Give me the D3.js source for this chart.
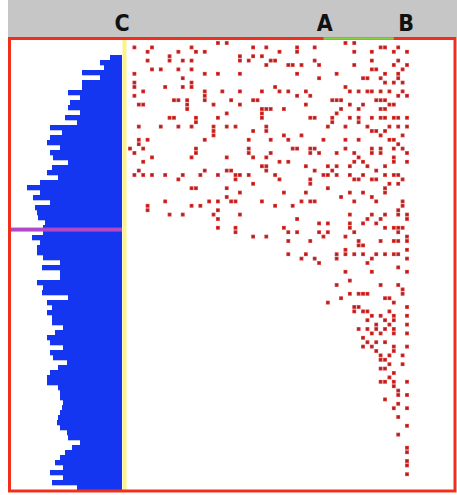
<!DOCTYPE html>
<meta charset="utf-8">
<title>Dot matrix with bars</title>
<style>
body { margin: 0; background: #fff; }
.label { font: bold 23px "DejaVu Sans Condensed", sans-serif; fill: #111; }
</style>
<svg width="457" height="495"></svg>
<script src="https://d3js.org/d3.v7.min.js"></script>
<script>

// column labels, placed on the dot column scale
var labels = ["C", "A", "B"];
var labelCols = [-1.8, 44.3, 62.8];

// highlighted span on the top border (dot columns)
var greenSpan = [44, 60];

// marker row across the bars (dot row units)
var markerRow = 42.4;

// bar lengths, top to bottom
var barLengths = [12, 22, 18, 40, 22, 40, 40, 54, 42, 52, 54, 42, 57, 45, 72, 60, 72, 75, 62, 72,
  69, 54, 70, 75, 64, 82, 95, 82, 89, 72, 87, 85, 84, 77, 79, 79, 90, 82, 85, 85,
  79, 62, 80, 62, 62, 85, 79, 80, 54, 75, 70, 75, 70, 70, 59, 67, 75, 72, 59, 72,
  69, 55, 64, 72, 75, 75, 64, 62, 62, 59, 60, 62, 64, 65, 62, 55, 54, 42, 50, 57,
  62, 67, 59, 72, 59, 70, 45];

// dots as [column, row]
var dots = [
  [1,1],[4,2],[5,1],[11,2],[14,1],[15,2],[17,2],[20,0],[22,0],[28,1],[31,1],
  [4,4],[9,4],[9,3],[12,4],[14,4],[25,3],[25,4],[27,4],[28,3],[30,3],[31,5],
  [5,6],[7,6],[11,6],[14,6],[17,7],[20,7],[25,7],[1,7],
  [12,8],[14,9],[1,9],[1,10],[3,11],[8,10],[12,10],[14,10],[17,11],[17,12],[21,11],[25,11],[30,11],[28,13],[29,13],[23,13],[1,12],
  [2,14],[3,14],[10,13],[11,13],[13,13],[13,14],[13,15],[17,13],[19,14],[22,16],[25,14],[30,15],[31,15],
  [9,17],[10,17],[15,17],[15,18],[20,17],[22,19],[30,16],[30,17],
  [2,19],[7,19],[11,19],[14,19],[19,19],[19,20],[19,21],[17,22],[24,19],[28,20],[31,20],
  [2,22],[4,22],[2,23],[27,22],[0,24],[3,24],[15,24],[27,24],
  [34,2],[38,1],[38,2],[42,1],[49,0],[51,0],[51,2],[55,2],[57,1],[58,1],[60,2],[61,1],[63,2],
  [32,4],[33,4],[36,5],[37,5],[39,5],[42,4],[43,5],[51,5],[55,4],[60,5],[61,4],[63,5],
  [38,7],[47,7],[55,6],[56,6],[58,7],[61,7],[62,6],[61,8],
  [43,8],[53,8],[54,8],[57,8],[58,9],[60,9],[62,9],
  [33,10],[34,11],[36,11],[38,12],[40,11],[41,12],[49,10],[50,11],[52,11],[54,11],[55,11],[57,11],[59,11],[61,12],[62,11],[63,12],
  [40,14],[46,13],[47,13],[48,13],[48,15],[50,14],[53,14],[56,13],[57,13],[58,13],[59,14],[60,14],
  [32,15],[35,15],[47,16],[52,15],[57,15],[58,15],
  [41,17],[42,17],[46,17],[46,18],[50,17],[52,17],[52,18],[55,17],[57,17],[58,17],[60,17],[61,17],[63,17],
  [31,19],[45,19],[49,19],[54,19],[55,20],[56,20],[58,20],[59,19],[61,19],[63,19],
  [32,22],[35,21],[36,22],[39,21],[44,22],[49,22],[52,22],[57,21],[59,22],[60,22],[62,21],
  [37,24],[38,24],[41,24],[42,24],[49,24],[55,24],[57,24],[60,24],[61,23],[62,24],
  [1,25],[5,26],[3,27],[14,26],[15,25],[22,26],[27,25],[28,26],[31,26],
  [1,30],[2,29],[3,30],[5,30],[8,30],[11,31],[12,30],[16,30],[17,29],[20,30],[22,29],[23,29],[24,30],[25,30],[27,30],[24,31],[28,32],[30,28],[31,29],
  [14,33],[15,33],[22,33],[25,34],[8,36],[4,37],[4,38],[14,37],[16,37],[18,36],[20,36],[22,35],[23,36],[24,36],[30,36],
  [9,39],[12,39],[19,39],[20,38],[20,40],[25,39],[20,42],[24,42],[24,43],[28,44],[31,44],
  [32,25],[41,25],[43,25],[47,25],[51,25],[52,26],[55,25],[57,25],[60,26],[60,27],[63,25],[63,27],
  [34,27],[36,27],[40,28],[42,29],[45,28],[46,29],[47,28],[50,28],[51,27],[53,27],[54,28],[56,29],[58,28],
  [31,28],[33,30],[34,31],[41,31],[41,32],[44,30],[45,30],[47,30],[50,30],[51,31],[52,31],[53,30],[55,31],[56,31],[58,30],[60,30],[61,30],[62,31],
  [35,34],[40,34],[39,36],[41,36],[42,36],[45,33],[48,35],[50,34],[51,36],[53,34],[55,35],[56,36],[58,34],[58,33],[59,32],[61,32],[62,37],[62,36],[61,38],[61,39],[55,39],
  [33,37],[37,37],[38,40],[43,41],[45,41],[43,43],[45,43],[35,42],[36,43],[38,43],[50,39],[50,41],[50,42],[51,43],[53,41],[54,40],[56,41],[57,40],[58,39],[58,42],[60,42],[61,42],[62,42],[61,43],[63,44],[63,39],[63,40],
  [36,45],[41,45],[44,44],[49,44],[52,45],[52,46],[53,46],[57,45],[60,45],[61,45],[63,45],
  [36,48],[39,49],[40,48],[42,49],[43,50],[47,48],[47,49],[49,47],[49,48],[51,48],[53,48],[54,50],[55,49],[56,48],[58,48],[60,48],[61,48],[63,47],[63,49],
  [49,52],[55,52],[61,51],[63,52],
  [47,55],[50,54],[52,57],[53,57],[54,57],[57,55],[61,55],[62,56],[62,57],[45,59],[48,58],[50,57],[51,60],[52,60],[58,58],[59,58],[60,59],[63,60],[54,61],[55,62],[59,61],[60,62],[63,62],
  [51,61],[53,61],[54,63],[57,62],[58,63],[59,64],[60,63],[63,64],
  [52,65],[54,65],[55,66],[56,64],[56,65],[57,66],[58,65],[60,65],[60,66],[63,66],
  [53,67],[54,68],[53,69],[55,69],[56,68],[56,70],[58,68],[60,69],[60,70],[59,71],[57,71],[63,69],
  [57,72],[57,74],[58,72],[58,74],[59,73],[60,75],[62,71],[62,73],[59,76],[60,77],
  [57,77],[58,77],[60,78],[61,80],[63,77],[63,80],[61,79],
  [58,81],[60,83],[61,82],[63,83],[61,85],[63,87],[61,89],[63,92],[63,93],[63,95],[63,96],[63,98]
];

var svg = d3.select("svg"),
    width = +svg.attr("width"),
    height = +svg.attr("height");

var frame = {left: 9.5, top: 38.5, right: 455, bottom: 491};
var barEdge = 122;

var x = d3.scaleLinear().domain([0, 63]).range([130, 407]);
var y = d3.scaleLinear().domain([0, 98]).range([43, 474.2]);

var yBar = d3.scaleBand()
    .domain(d3.range(barLengths.length))
    .range([55, 490]);
var xBar = d3.scaleLinear().domain([0, 100]).range([barEdge, 22]);

// header strip
svg.append("rect")
    .attr("x", 8).attr("y", 0)
    .attr("width", width - 8).attr("height", 37)
    .attr("fill", "#c6c6c6");

svg.selectAll(".label")
    .data(labels)
    .enter().append("text")
    .attr("class", "label")
    .attr("x", function(d, i) { return x(labelCols[i]); })
    .attr("y", 31)
    .attr("text-anchor", "middle")
    .text(function(d) { return d; });

// bars
svg.selectAll(".bar")
    .data(barLengths)
    .enter().append("rect")
    .attr("class", "bar")
    .attr("x", function(d) { return xBar(d); })
    .attr("y", function(d, i) { return yBar(i); })
    .attr("width", function(d) { return barEdge - xBar(d); })
    .attr("height", yBar.bandwidth() + 0.3)
    .attr("fill", "#1436f0");

// yellow divider
svg.append("rect")
    .attr("x", barEdge + 0.5).attr("y", frame.top)
    .attr("width", 4).attr("height", frame.bottom - frame.top)
    .attr("fill", "#fbf48a");

// marker row
svg.append("rect")
    .attr("x", frame.left).attr("y", y(markerRow) - 2)
    .attr("width", barEdge - frame.left).attr("height", 4)
    .attr("fill", "#b048c8");

// dots
var dot = svg.selectAll(".dot")
    .data(dots)
    .enter().append("g")
    .attr("class", "dot")
    .attr("transform", function(d) { return "translate(" + x(d[0]) + "," + y(d[1]) + ")"; });

dot.append("rect")
    .attr("x", -1.9).attr("y", -1.9)
    .attr("width", 3.8).attr("height", 3.8)
    .attr("fill", "#e03028");

dot.append("rect")
    .attr("x", -0.9).attr("y", -0.9)
    .attr("width", 1.8).attr("height", 1.8)
    .attr("fill", "#8a2438");

// frame
svg.append("rect")
    .attr("x", frame.left).attr("y", frame.top)
    .attr("width", frame.right - frame.left).attr("height", frame.bottom - frame.top)
    .attr("fill", "none")
    .attr("stroke", "#f0301c")
    .attr("stroke-width", 3);

svg.append("line")
    .attr("x1", x(greenSpan[0])).attr("x2", x(greenSpan[1]))
    .attr("y1", frame.top).attr("y2", frame.top)
    .attr("stroke", "#8ad040")
    .attr("stroke-width", 2.5);

</script>
